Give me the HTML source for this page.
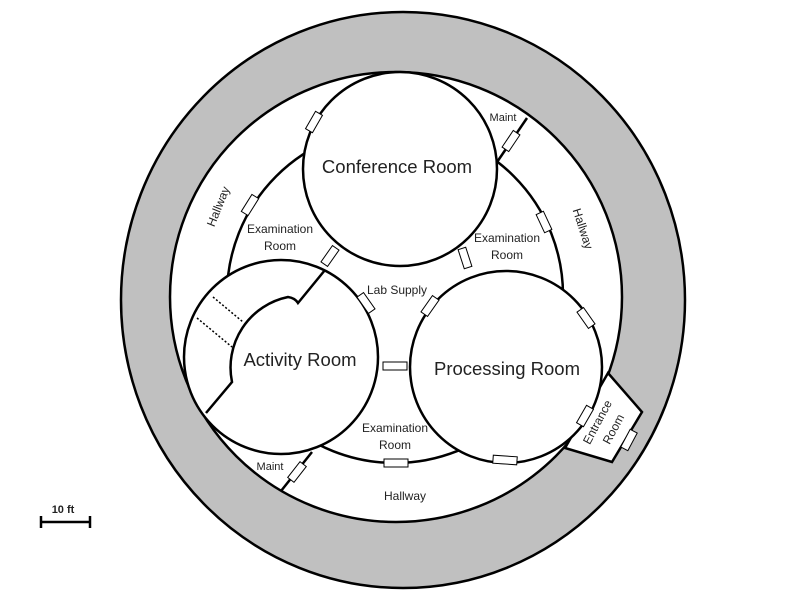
<!DOCTYPE html>
<html><head><meta charset="utf-8"><style>
html,body{margin:0;padding:0;background:#fff}
svg{display:block}
text{font-family:"Liberation Sans",sans-serif;fill:#222}
</style></head><body>
<svg width="800" height="591" viewBox="0 0 800 591" xmlns="http://www.w3.org/2000/svg">
<g stroke="#000" stroke-width="2.5">
<ellipse cx="403" cy="300" rx="282" ry="288" fill="#c0c0c0"/>
<ellipse cx="396" cy="297" rx="226" ry="225" fill="#fff"/>
<polygon points="608,373 642,412 612,462 565,448" fill="#fff"/>
<line x1="527" y1="118" x2="493" y2="168"/>
<line x1="281" y1="491" x2="312" y2="452"/>
<circle cx="395" cy="295" r="168" fill="#fff"/>
<circle cx="400" cy="169" r="97" fill="#fff"/>
<circle cx="281" cy="357" r="97" fill="#fff"/>
<circle cx="506" cy="367" r="96" fill="#fff"/>
<path d="M325,270 L298,303 Q295,298 288,297 A72,72 0 0 0 232,382 L206,413" fill="none"/>
</g>
<g stroke="#000" stroke-width="1.5" stroke-dasharray="2,2">
<line x1="213" y1="297" x2="243" y2="322"/>
<line x1="197" y1="318" x2="232" y2="347"/>
</g>
<g fill="#fff" stroke="#000" stroke-width="1">
<rect x="-10" y="-4" width="20" height="8" transform="translate(314,122) rotate(-60)"/>
<rect x="-10" y="-4" width="20" height="8" transform="translate(250,205) rotate(-58)"/>
<rect x="-10" y="-4" width="20" height="8" transform="translate(330,256) rotate(-55)"/>
<rect x="-10" y="-4" width="20" height="8" transform="translate(465,258) rotate(72)"/>
<rect x="-10" y="-4" width="20" height="8" transform="translate(544,222) rotate(65)"/>
<rect x="-10" y="-4" width="20" height="8" transform="translate(511,141) rotate(124)"/>
<rect x="-10" y="-4" width="20" height="8" transform="translate(366,303) rotate(55)"/>
<rect x="-10" y="-4" width="20" height="8" transform="translate(430,306) rotate(-55)"/>
<rect x="-10" y="-4" width="20" height="8" transform="translate(586,318) rotate(55)"/>
<rect x="-12" y="-4" width="24" height="8" transform="translate(395,366)"/>
<rect x="-10" y="-4" width="20" height="8" transform="translate(585,416) rotate(-60)"/>
<rect x="-12" y="-4" width="24" height="8" transform="translate(396,463)"/>
<rect x="-12" y="-4" width="24" height="8" transform="translate(505,460) rotate(4)"/>
<rect x="-10" y="-4" width="20" height="8" transform="translate(297,472) rotate(-52)"/>
<rect x="-10" y="-4" width="20" height="8" transform="translate(629,440) rotate(-62)"/>
</g>
<text x="397" y="173" font-size="18.5" text-anchor="middle">Conference Room</text>
<text x="300" y="366" font-size="18.5" text-anchor="middle">Activity Room</text>
<text x="507" y="375" font-size="18.5" text-anchor="middle">Processing Room</text>
<g font-size="12" text-anchor="middle" fill="#333">
<text x="280" y="233">Examination</text><text x="280" y="250">Room</text>
<text x="507" y="242">Examination</text><text x="507" y="259">Room</text>
<text x="395" y="432">Examination</text><text x="395" y="449">Room</text>
<text x="397" y="294">Lab Supply</text>
<text x="503" y="121" font-size="11">Maint</text>
<text x="270" y="470" font-size="11">Maint</text>
<text x="405" y="500">Hallway</text>
<text transform="translate(222,208) rotate(-68)">Hallway</text>
<text transform="translate(579,230) rotate(72)">Hallway</text>
<text transform="translate(601,424) rotate(-62)">Entrance</text>
<text transform="translate(617,431) rotate(-62)">Room</text>
<text x="63" y="513" font-weight="bold" font-size="11">10 ft</text>
</g>
<g stroke="#000" stroke-width="2.5">
<line x1="41" y1="522" x2="90" y2="522"/>
<line x1="41" y1="516" x2="41" y2="528"/>
<line x1="90" y1="516" x2="90" y2="528"/>
</g>
</svg>
</body></html>
